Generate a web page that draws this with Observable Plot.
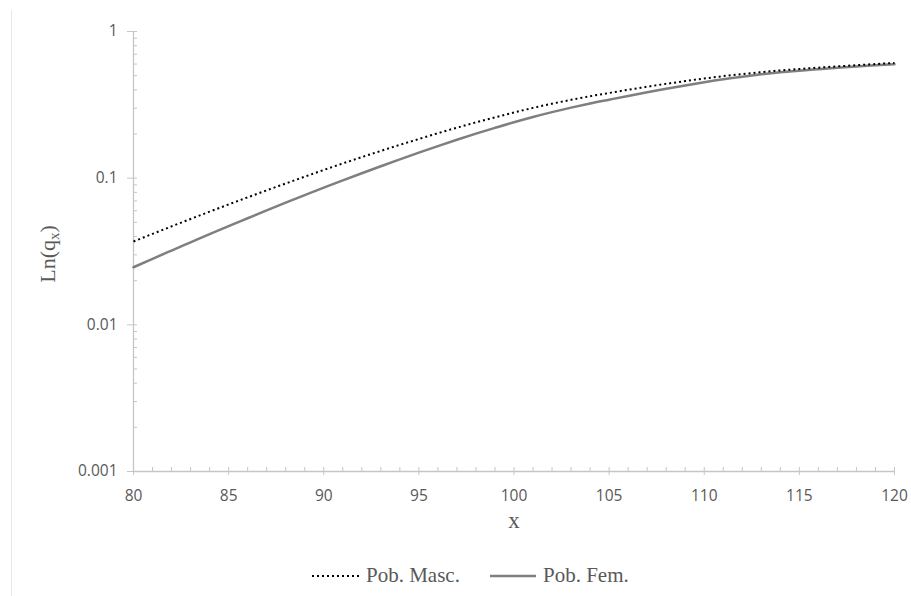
<!DOCTYPE html>
<html>
<head>
<meta charset="utf-8">
<script src="https://cdn.jsdelivr.net/npm/d3@7"></script>
<script src="https://cdn.jsdelivr.net/npm/@observablehq/plot@0.6"></script>
<style>
  html, body { margin: 0; padding: 0; background: #fff; }
  #wrap { position: relative; width: 911px; height: 596px; overflow: hidden; }
  #border { position: absolute; left: 11px; top: 10px; width: 0; height: 620px; border-left: 1px solid #e8e8e8; }
  #legend { position: relative; height: 46px; font-family: "Liberation Serif", serif; font-size: 21px; color: #595959; }
  #legend .item { position: absolute; top: 13px; display: flex; align-items: center; }
  #legend svg { display: block; margin-right: 7px; }
</style>
</head>
<body>
<div id="wrap">
  <div id="border"></div>
  <div id="chart"></div>
  <div id="legend"></div>
</div>
<script>
// ---- data ----
const ages = [80, 81, 82, 83, 84, 85, 86, 87, 88, 89, 90, 91, 92, 93, 94, 95, 96, 97, 98, 99, 100,
  101, 102, 103, 104, 105, 106, 107, 108, 109, 110, 111, 112, 113, 114, 115, 116, 117, 118, 119, 120];
const qMasc = [0.0370, 0.0417, 0.0469, 0.0527, 0.0591, 0.0662, 0.0740, 0.0826, 0.0920, 0.1024, 0.1137,
  0.1260, 0.1392, 0.1534, 0.1687, 0.1850, 0.2026, 0.2209, 0.2401, 0.2599, 0.2805,
  0.3015, 0.3220, 0.3420, 0.3619, 0.3808, 0.4005, 0.4201, 0.4397, 0.4591, 0.4782,
  0.4962, 0.5128, 0.5283, 0.5426, 0.5551, 0.5670, 0.5782, 0.5892, 0.6000, 0.6100];
const qFem = [0.0247, 0.0282, 0.0321, 0.0365, 0.0415, 0.0471, 0.0533, 0.0603, 0.0681, 0.0767, 0.0862,
  0.0966, 0.1081, 0.1206, 0.1343, 0.1492, 0.1654, 0.1827, 0.2011, 0.2204, 0.2408,
  0.2614, 0.2820, 0.3026, 0.3230, 0.3428, 0.3636, 0.3848, 0.4065, 0.4288, 0.4511,
  0.4726, 0.4922, 0.5103, 0.5266, 0.5404, 0.5533, 0.5656, 0.5773, 0.5883, 0.5985];
const seriesNames = ["Pob. Masc.", "Pob. Fem."];
const xTicks = [80, 85, 90, 95, 100, 105, 110, 115, 120];
const yTicks = [0.001, 0.01, 0.1, 1];
const yTickLabels = ["0.001", "0.01", "0.1", "1"];
const xTitle = "x";
const yTitleMain = "Ln(q";
const yTitleSub = "x";

// ---- derived ----
const masc = ages.map((a, i) => ({x: a, q: qMasc[i]}));
const fem = ages.map((a, i) => ({x: a, q: qFem[i]}));
const xMinor = ages.filter(a => !xTicks.includes(a));
const yMinor = [];
yTicks.slice(0, -1).forEach(t => { for (let k = 2; k <= 9; k++) yMinor.push(t * k); });

const axisColor = "#c6c6c6";
const textColor = "#595959";
const tickFont = "'Open Sans', sans-serif";

const chart = Plot.plot({
  width: 911,
  height: 550,
  marginLeft: 133,
  marginRight: 17,
  marginTop: 31,
  marginBottom: 79,
  x: {domain: [80, 120]},
  y: {type: "log", domain: [0.001, 1]},
  style: {fontFamily: tickFont, fontSize: "15px", color: textColor, background: "white"},
  marks: [
    Plot.ruleX([80], {stroke: axisColor, strokeWidth: 1.3}),
    Plot.ruleY([0.001], {stroke: axisColor, strokeWidth: 1.3}),
    // x ticks
    Plot.axisX({ticks: xMinor, tickSize: 4, dy: -4, fill: "none", stroke: axisColor, label: null}),
    Plot.axisX({ticks: xTicks, tickSize: 8, dy: -4, fill: "none", stroke: axisColor, label: null}),
    Plot.axisX({ticks: xTicks, tickSize: 0, tickPadding: 18, tickFormat: d => String(d), fill: textColor, fontSize: 15.5, fontFamily: tickFont, label: null}),
    // y ticks
    Plot.axisY({ticks: yMinor, tickSize: 4, dx: 4, fill: "none", stroke: axisColor, label: null}),
    Plot.axisY({ticks: yTicks, tickSize: 10, dx: 4, fill: "none", stroke: axisColor, label: null}),
    Plot.axisY({ticks: yTicks, tickSize: 0, tickPadding: 16, tickFormat: d => yTickLabels[yTicks.indexOf(d)], fill: textColor, fontSize: 15.5, fontFamily: tickFont, label: null}),
    // series
    Plot.line(fem, {x: "x", y: "q", stroke: "#7f7f7f", strokeWidth: 2.5, curve: "monotone-x"}),
    Plot.line(masc, {x: "x", y: "q", stroke: "#000", strokeWidth: 2, strokeDasharray: "2,3", strokeLinecap: "butt", curve: "monotone-x"}),
    // x title
    Plot.text([xTitle], {frameAnchor: "bottom", dy: 56, text: d => d, fontFamily: "'Liberation Serif', serif", fontSize: 23, fill: textColor})
  ]
});
document.getElementById("chart").appendChild(chart);

// y title with subscript
const svg = d3.select(chart);
const yt = svg.append("text")
  .attr("transform", "translate(55,254) rotate(-90)")
  .attr("text-anchor", "middle")
  .attr("font-family", "'Liberation Serif', serif")
  .attr("font-size", 22)
  .attr("fill", textColor);
yt.append("tspan").text(yTitleMain);
yt.append("tspan").attr("font-size", 15).attr("dy", 4).text(yTitleSub);
yt.append("tspan").attr("dy", -4).text(")");

// legend
const legend = d3.select("#legend");
const items = [
  {name: seriesNames[0], left: 312, w: 47, stroke: "#000", sw: 2, dash: "2,3"},
  {name: seriesNames[1], left: 490, w: 46, stroke: "#7f7f7f", sw: 2.5, dash: null}
];
items.forEach(it => {
  const d = legend.append("div").attr("class", "item").style("left", it.left + "px");
  const s = d.append("svg").attr("width", it.w).attr("height", 10);
  s.append("line").attr("x1", 0).attr("x2", it.w).attr("y1", 5).attr("y2", 5)
    .attr("stroke", it.stroke).attr("stroke-width", it.sw)
    .attr("stroke-dasharray", it.dash);
  d.append("span").text(it.name);
});
</script>
</body>
</html>
